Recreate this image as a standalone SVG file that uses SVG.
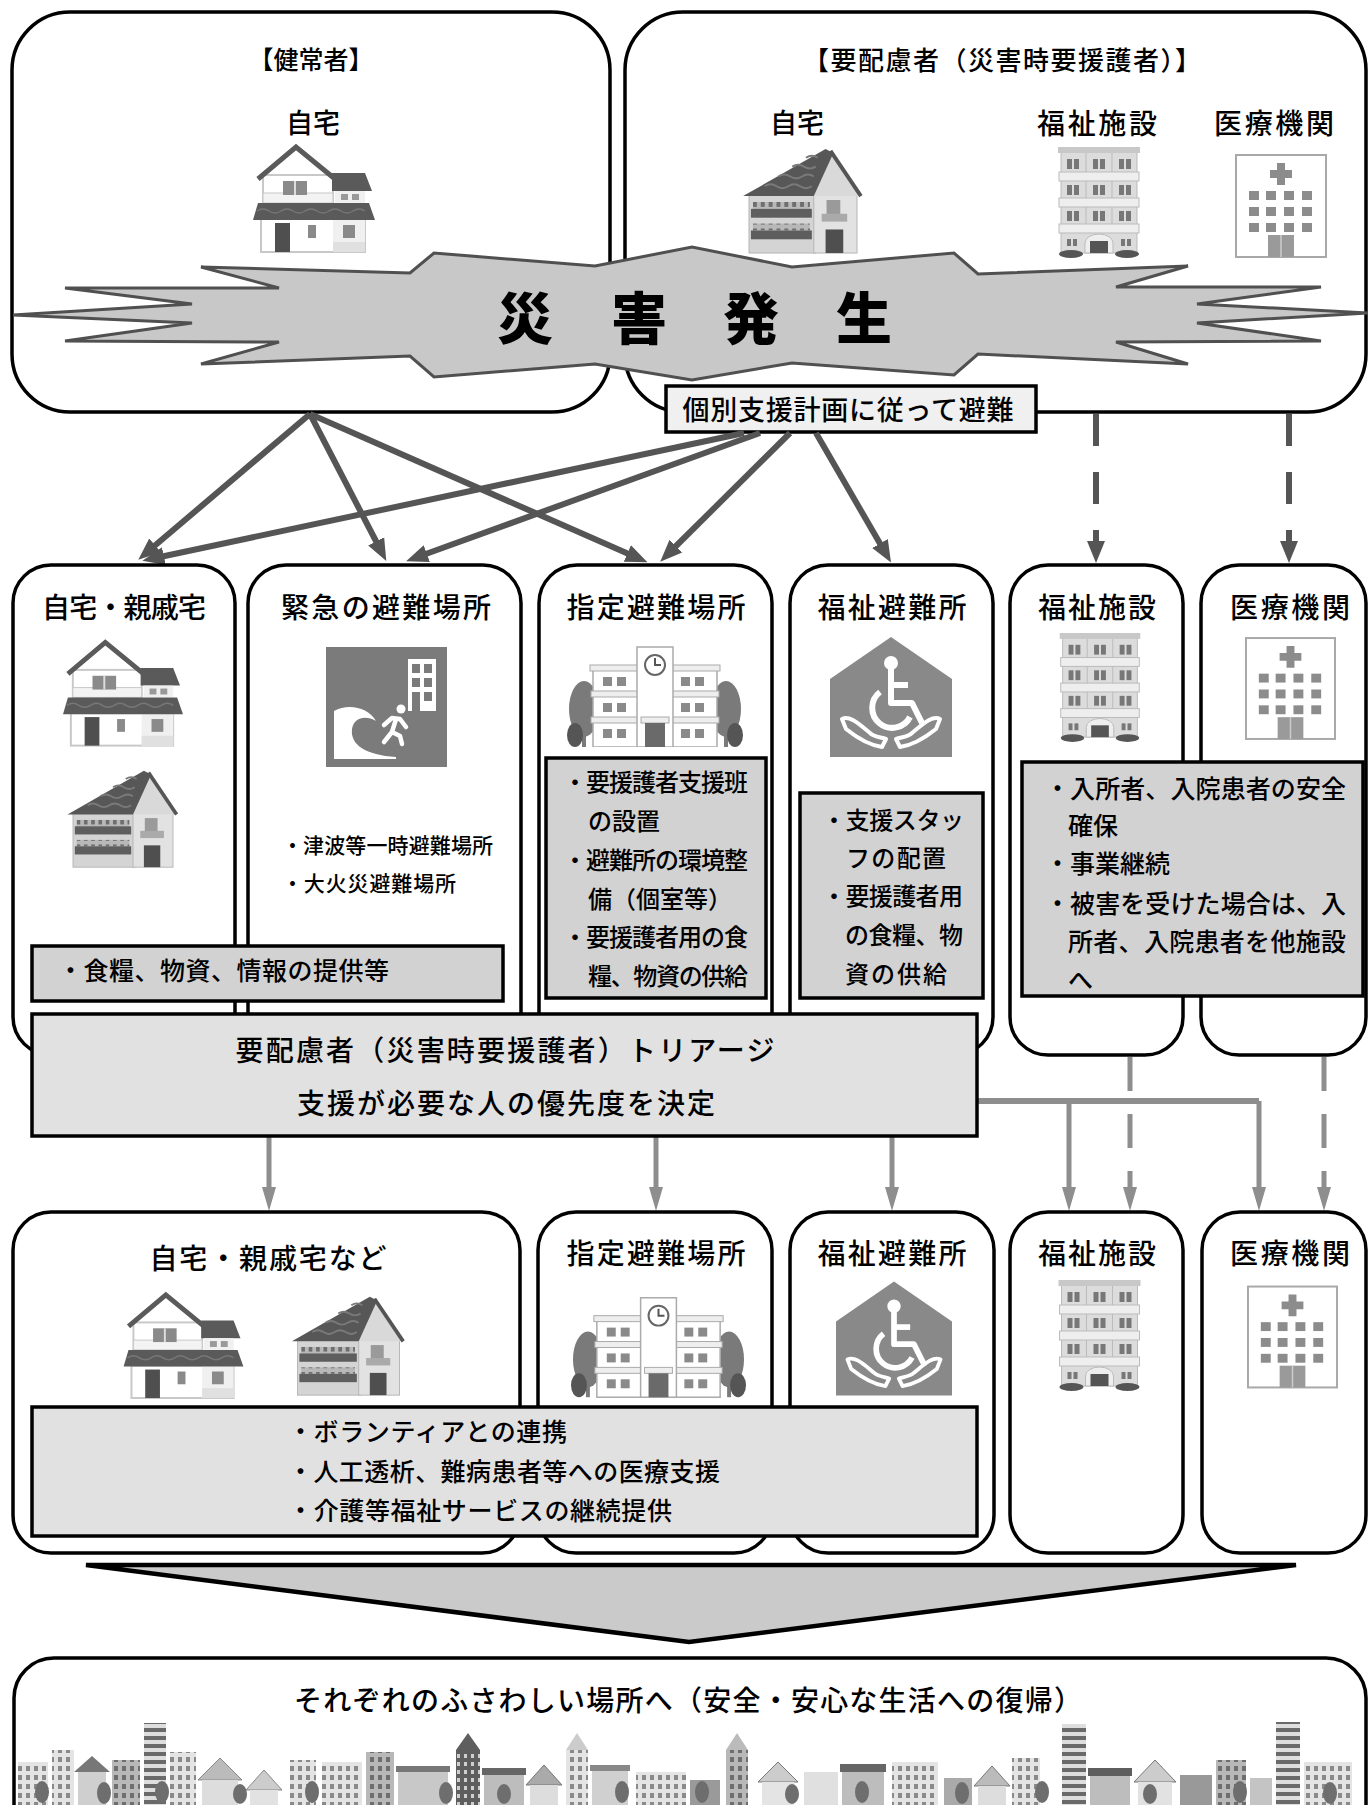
<svg xmlns="http://www.w3.org/2000/svg" xmlns:xlink="http://www.w3.org/1999/xlink" width="1368" height="1805" viewBox="0 0 1368 1805">
<style>
.box{fill:#fff;stroke:#000;stroke-width:3.5}
.gbox{fill:#d2d2d2;stroke:#000;stroke-width:3.5}
.lbox{fill:#e1e1e1;stroke:#000;stroke-width:3.5}
.t{font-family:"Liberation Sans","Noto Sans CJK JP",sans-serif;fill:#000;font-weight:500}
.m{text-anchor:middle}
.arr{stroke:#555;stroke-width:6;fill:none;marker-end:url(#ah)}
.arr2{stroke:#8e8e8e;stroke-width:5;fill:none;marker-end:url(#ah2)}
.dash{stroke-dasharray:32 26}
.dash2{stroke-dasharray:34 23}
</style>
<defs>
<marker id="ah" markerUnits="userSpaceOnUse" markerWidth="24" markerHeight="20" refX="4" refY="10" orient="auto">
<path d="M0,1 L22,10 L0,19 z" fill="#555"/>
</marker>
<marker id="ah2" markerUnits="userSpaceOnUse" markerWidth="26" markerHeight="16" refX="6" refY="8" orient="auto">
<path d="M0,1 L24,8 L0,15 z" fill="#8e8e8e"/>
</marker>
<pattern id="stripe" width="10" height="8" patternUnits="userSpaceOnUse">
<rect width="10" height="8" fill="#dedede"/><rect width="10" height="4" fill="#6a6a6a"/>
</pattern>
<pattern id="win" width="8" height="9" patternUnits="userSpaceOnUse">
<rect width="8" height="9" fill="#e4e4e4"/><rect x="2" y="2" width="4" height="5" fill="#8a8a8a"/>
</pattern>
<pattern id="win2" width="8" height="9" patternUnits="userSpaceOnUse">
<rect width="8" height="9" fill="#b8b8b8"/><rect x="2" y="2" width="4" height="5" fill="#6e6e6e"/>
</pattern>
<pattern id="win3" width="7" height="8" patternUnits="userSpaceOnUse">
<rect width="7" height="8" fill="#5e5e5e"/><rect x="2" y="2" width="3" height="4" fill="#cfcfcf"/>
</pattern>

<!-- two-storey white house -->
<symbol id="houseA" viewBox="0 0 122 110">
<rect x="8" y="76" width="104" height="33" fill="#fff" stroke="#c8c8c8" stroke-width="2"/>
<rect x="80" y="76" width="32" height="33" fill="#f0f0f0"/>
<rect x="80" y="99" width="32" height="10" fill="#e0e0e0"/>
<rect x="22" y="80" width="15" height="29" fill="#4f4f4f"/>
<rect x="55" y="82" width="8" height="13" fill="#8a8a8a"/>
<rect x="90" y="82" width="12" height="13" fill="#8a8a8a"/>
<rect x="10" y="32" width="70" height="28" fill="#fff" stroke="#c8c8c8" stroke-width="2"/>
<rect x="10" y="50" width="70" height="10" fill="#f3f3f3" stroke="#c8c8c8"/>
<rect x="30" y="38" width="24" height="14" fill="#8a8a8a"/>
<line x1="42" y1="38" x2="42" y2="52" stroke="#ddd" stroke-width="2"/>
<polyline points="5,36 43,4 82,36" fill="none" stroke="#5a5a5a" stroke-width="5"/>
<polygon points="79,30 112,30 119,48 79,48" fill="#5a5a5a"/>
<rect x="82" y="48" width="30" height="12" fill="#f0f0f0"/>
<rect x="88" y="51" width="7" height="6" fill="#999"/><rect x="99" y="51" width="7" height="6" fill="#999"/>
<polygon points="5,60 116,60 122,77 0,77" fill="#5a5a5a"/>
<path d="M4,68 q6,-4 12,0 t12,0 t12,0 t12,0 t12,0 t12,0 t12,0 t12,0 t12,0" fill="none" stroke="#777" stroke-width="1.5"/>
</symbol>

<!-- grey house with dark roof -->
<symbol id="houseB" viewBox="0 0 122 110">
<rect x="6" y="48" width="68" height="60" fill="#d4d4d4" stroke="#b4b4b4"/>
<rect x="72" y="48" width="44" height="60" fill="#e2e2e2" stroke="#b4b4b4"/>
<polygon points="70,50 88,5 118,50" fill="#d9d9d9"/>
<polygon points="0,50 84,2 92,6 72,50" fill="#575757"/>
<line x1="89" y1="4" x2="120" y2="50" stroke="#555" stroke-width="4"/>
<path d="M22,40 q6,-4 12,0 t12,0 t12,0 t12,0 M36,30 q6,-4 12,0 t12,0 t12,0 M50,20 q6,-4 12,0 t12,0 M64,11 q6,-4 12,0" fill="none" stroke="#7a7a7a" stroke-width="2"/>
<rect x="10" y="56" width="58" height="7" fill="url(#win2)"/>
<rect x="8" y="63" width="62" height="9" fill="#5e5e5e"/>
<rect x="10" y="78" width="58" height="7" fill="url(#win2)"/>
<rect x="8" y="85" width="62" height="9" fill="#5e5e5e"/>
<rect x="85" y="54" width="14" height="16" fill="#9a9a9a"/>
<rect x="80" y="68" width="26" height="8" fill="#aaa"/>
<rect x="84" y="84" width="18" height="24" fill="#4f4f4f"/>
</symbol>

<!-- care facility building -->
<symbol id="apt" viewBox="0 0 84 112">
<rect x="4" y="4" width="76" height="102" fill="#dcdcdc" stroke="#bbb"/>
<rect x="1" y="0" width="82" height="6" fill="#c8c8c8"/>
<g fill="#777">
<rect x="10" y="12" width="5" height="10"/><rect x="17" y="12" width="5" height="10"/>
<rect x="36" y="12" width="5" height="10"/><rect x="43" y="12" width="5" height="10"/>
<rect x="62" y="12" width="5" height="10"/><rect x="69" y="12" width="5" height="10"/>
<rect x="10" y="38" width="5" height="10"/><rect x="17" y="38" width="5" height="10"/>
<rect x="36" y="38" width="5" height="10"/><rect x="43" y="38" width="5" height="10"/>
<rect x="62" y="38" width="5" height="10"/><rect x="69" y="38" width="5" height="10"/>
<rect x="10" y="64" width="5" height="10"/><rect x="17" y="64" width="5" height="10"/>
<rect x="36" y="64" width="5" height="10"/><rect x="43" y="64" width="5" height="10"/>
<rect x="62" y="64" width="5" height="10"/><rect x="69" y="64" width="5" height="10"/>
<rect x="10" y="92" width="4" height="7"/><rect x="16" y="92" width="4" height="7"/>
<rect x="64" y="92" width="4" height="7"/><rect x="70" y="92" width="4" height="7"/>
</g>
<g fill="#eee" stroke="#bbb">
<rect x="2" y="25" width="80" height="9"/><rect x="2" y="51" width="80" height="9"/><rect x="2" y="77" width="80" height="9"/>
</g>
<line x1="29" y1="6" x2="29" y2="25" stroke="#bbb"/><line x1="55" y1="6" x2="55" y2="25" stroke="#bbb"/>
<line x1="29" y1="34" x2="29" y2="51" stroke="#bbb"/><line x1="55" y1="34" x2="55" y2="51" stroke="#bbb"/>
<line x1="29" y1="60" x2="29" y2="77" stroke="#bbb"/><line x1="55" y1="60" x2="55" y2="77" stroke="#bbb"/>
<path d="M28,106 V96 A14,9 0 0 1 56,96 V106 Z" fill="#eee" stroke="#bbb"/>
<rect x="33" y="94" width="18" height="12" fill="#555"/>
<ellipse cx="14" cy="107" rx="12" ry="4" fill="#555"/><ellipse cx="70" cy="107" rx="12" ry="4" fill="#555"/>
</symbol>

<!-- hospital -->
<symbol id="hosp" viewBox="0 0 94 106">
<rect x="2" y="2" width="90" height="102" fill="#fff" stroke="#a8a8a8" stroke-width="2"/>
<path d="M43,10h8v7h7v8h-7v7h-8v-7h-7v-8h7z" fill="#8c8c8c"/>
<g fill="#8c8c8c">
<rect x="15" y="38" width="10" height="9"/><rect x="32" y="38" width="10" height="9"/><rect x="50" y="38" width="10" height="9"/><rect x="68" y="38" width="10" height="9"/>
<rect x="15" y="54" width="10" height="9"/><rect x="32" y="54" width="10" height="9"/><rect x="50" y="54" width="10" height="9"/><rect x="68" y="54" width="10" height="9"/>
<rect x="15" y="70" width="10" height="9"/><rect x="32" y="70" width="10" height="9"/><rect x="50" y="70" width="10" height="9"/><rect x="68" y="70" width="10" height="9"/>
</g>
<rect x="34" y="82" width="26" height="22" fill="#9a9a9a"/>
<line x1="47" y1="82" x2="47" y2="104" stroke="#ccc" stroke-width="1.5"/>
</symbol>

<!-- school (designated shelter) -->
<symbol id="school" viewBox="0 0 176 102">
<ellipse cx="17" cy="64" rx="15" ry="28" fill="#7a7a7a"/><rect x="15" y="86" width="4" height="16" fill="#7a7a7a"/>
<ellipse cx="8" cy="90" rx="8" ry="12" fill="#555"/>
<ellipse cx="159" cy="64" rx="15" ry="28" fill="#7a7a7a"/><rect x="157" y="86" width="4" height="16" fill="#7a7a7a"/>
<ellipse cx="168" cy="90" rx="8" ry="12" fill="#555"/>
<rect x="26" y="24" width="48" height="78" fill="#fff" stroke="#aaa" stroke-width="1.5"/>
<rect x="102" y="24" width="48" height="78" fill="#fff" stroke="#aaa" stroke-width="1.5"/>
<rect x="23" y="20" width="54" height="6" fill="#eee" stroke="#aaa"/>
<rect x="99" y="20" width="54" height="6" fill="#eee" stroke="#aaa"/>
<g fill="#eee" stroke="#aaa"><rect x="24" y="46" width="52" height="6"/><rect x="100" y="46" width="52" height="6"/><rect x="24" y="72" width="52" height="6"/><rect x="100" y="72" width="52" height="6"/></g>
<g fill="#8a8a8a">
<rect x="36" y="32" width="9" height="9"/><rect x="50" y="32" width="9" height="9"/><rect x="114" y="32" width="9" height="9"/><rect x="128" y="32" width="9" height="9"/>
<rect x="36" y="58" width="9" height="9"/><rect x="50" y="58" width="9" height="9"/><rect x="114" y="58" width="9" height="9"/><rect x="128" y="58" width="9" height="9"/>
<rect x="36" y="84" width="9" height="9"/><rect x="50" y="84" width="9" height="9"/><rect x="114" y="84" width="9" height="9"/><rect x="128" y="84" width="9" height="9"/>
</g>
<rect x="70" y="2" width="36" height="100" fill="#fff" stroke="#aaa" stroke-width="1.5"/>
<circle cx="88" cy="20" r="10" fill="#fff" stroke="#666" stroke-width="2"/>
<path d="M88,13 V20 H94" fill="none" stroke="#555" stroke-width="2"/>
<rect x="74" y="72" width="28" height="6" fill="#eee" stroke="#aaa"/>
<rect x="78" y="78" width="20" height="24" fill="#6a6a6a"/>
</symbol>

<!-- tsunami evacuation sign -->
<symbol id="tsunami" viewBox="0 0 121 120">
<rect width="121" height="120" fill="#7b7b7b"/>
<rect x="82" y="12" width="28" height="52" fill="#fff"/>
<g fill="#7b7b7b">
<rect x="86" y="17" width="8" height="9"/><rect x="98" y="17" width="8" height="9"/>
<rect x="86" y="31" width="8" height="9"/><rect x="98" y="31" width="8" height="9"/>
<rect x="86" y="45" width="8" height="19"/><rect x="98" y="45" width="8" height="9"/>
</g>
<circle cx="75" cy="62" r="4.5" fill="#fff"/>
<path d="M58,78 L66,71 L74,72 L80,80 M70,72 L66,85 L58,95 M66,85 L74,89 L76,97" stroke="#fff" stroke-width="4.5" fill="none" stroke-linecap="round" stroke-linejoin="round"/>
<path d="M8,112 L8,64 C22,56 42,60 50,74 C40,68 28,70 26,82 C24,98 40,108 70,110 L70,112 Z" fill="#fff"/>
</symbol>

<!-- welfare shelter sign -->
<symbol id="wheel" viewBox="0 0 122 120">
<polygon points="0,42 61,0 122,42 122,120 0,120" fill="#898989"/>
<circle cx="61" cy="26" r="7" fill="#fff"/>
<path d="M61,32 L61,66 L82,66 L92,86" stroke="#fff" stroke-width="6" fill="none" stroke-linejoin="round"/>
<path d="M61,48 L78,48" stroke="#fff" stroke-width="6"/>
<path d="M50,55 A20,20 0 1 0 80,80" stroke="#fff" stroke-width="6" fill="none"/>
<path d="M12,82 C20,78 30,88 40,96 C44,100 50,100 56,102 L52,110 C38,108 26,100 16,92 Z" fill="none" stroke="#fff" stroke-width="4" stroke-linejoin="round"/>
<path d="M110,82 C102,78 92,88 82,96 C78,100 72,100 66,102 L70,110 C84,108 96,100 106,92 Z" fill="none" stroke="#fff" stroke-width="4" stroke-linejoin="round"/>
</symbol>
</defs>

<rect width="1368" height="1805" fill="#fff"/>

<!-- top: healthy residents -->
<g id="node-healthy">
<rect class="box" x="12" y="12" width="598" height="400" rx="58"/>
<text class="t m" x="311" y="69" font-size="25">【健常者】</text>
<text class="t m" x="313" y="133" font-size="27">自宅</text>
<use href="#houseA" x="253" y="143" width="122" height="110"/>
</g>

<!-- top: people requiring consideration -->
<g id="node-vulnerable">
<rect class="box" x="625" y="12" width="741" height="400" rx="58"/>
<text class="t m" x="1002" y="70" font-size="26" textLength="398">【要配慮者（災害時要援護者）】</text>
<text class="t m" x="797" y="133" font-size="27">自宅</text>
<text class="t m" x="1097" y="134" font-size="28" textLength="120">福祉施設</text>
<text class="t m" x="1274" y="134" font-size="28" textLength="120">医療機関</text>
<use href="#houseB" x="743" y="147" width="120" height="108"/>
<use href="#apt" x="1057" y="147" width="84" height="112"/>
<use href="#hosp" x="1234" y="153" width="94" height="106"/>
</g>

<!-- disaster burst -->
<g id="node-disaster">
<polygon points="13,315 192,304 65,288 279,288 201,267 410,273 434,253 595,266 692,247 792,267 954,253 978,274 1188,266 1116,287 1321,287 1197,304 1368,313 1197,323 1321,341 1116,342 1188,364 978,354 954,375 792,363 692,380 595,364 434,377 410,356 201,364 279,342 65,341 192,323" fill="#c8c8c8" stroke="#505050" stroke-width="3" stroke-linejoin="miter"/>
<g class="t m" font-size="56" style="font-weight:900">
<text x="525" y="339">災</text><text x="639" y="339">害</text><text x="751" y="339">発</text><text x="864" y="339">生</text>
</g>
</g>

<g id="node-plan">
<rect x="666" y="386" width="370" height="46" fill="#f0f0f0" stroke="#000" stroke-width="3.5"/>
<text class="t m" x="848" y="420" font-size="27" textLength="331">個別支援計画に従って避難</text>
</g>

<!-- evacuation routes -->
<g id="connectors">
<line class="arr" x1="310" y1="414" x2="152" y2="548"/>
<line class="arr" x1="310" y1="414" x2="378" y2="545"/>
<line class="arr" x1="310" y1="414" x2="631" y2="555"/>
<line class="arr" x1="744" y1="433" x2="160" y2="557"/>
<line class="arr" x1="760" y1="433" x2="423" y2="555"/>
<line class="arr" x1="790" y1="433" x2="673" y2="549"/>
<line class="arr" x1="816" y1="433" x2="882" y2="547"/>
<line class="arr dash" x1="1096" y1="414" x2="1096" y2="545"/>
<line class="arr dash" x1="1289" y1="414" x2="1289" y2="545"/>

<line class="arr2" x1="269" y1="1137" x2="269" y2="1193"/>
<line class="arr2" x1="656" y1="1137" x2="656" y2="1193"/>
<line class="arr2" x1="892" y1="1137" x2="892" y2="1193"/>
<path d="M977,1101 H1259" stroke="#8e8e8e" stroke-width="6" fill="none"/>
<line class="arr2" x1="1069" y1="1101" x2="1069" y2="1193"/>
<path class="arr2" d="M1259,1101 V1193"/>
<line class="arr2 dash2" x1="1130" y1="1057" x2="1130" y2="1193"/>
<line class="arr2 dash2" x1="1324" y1="1057" x2="1324" y2="1193"/>
</g>

<!-- middle row: evacuation destinations -->
<g id="node-home">
<rect class="box" x="13" y="565" width="222" height="490" rx="38"/>
<text class="t m" x="124" y="618" font-size="28" textLength="164">自宅・親戚宅</text>
<use href="#houseA" x="63" y="637" width="120" height="111"/>
<use href="#houseB" x="63" y="769" width="120" height="100"/>
</g>
<g id="node-emergency">
<rect class="box" x="248" y="565" width="273" height="490" rx="38"/>
<text class="t m" x="386" y="618" font-size="28" textLength="210">緊急の避難場所</text>
<use href="#tsunami" x="326" y="647" width="121" height="120"/>
<text class="t" x="282" y="853" font-size="21" textLength="211">・津波等一時避難場所</text>
<text class="t" x="282" y="891" font-size="21" textLength="174">・大火災避難場所</text>
</g>
<g id="node-designated">
<rect class="box" x="539" y="565" width="233" height="490" rx="38"/>
<text class="t m" x="656" y="618" font-size="28" textLength="179">指定避難場所</text>
<use href="#school" x="567" y="645" width="176" height="102"/>
</g>
<g id="node-welfare-shelter">
<rect class="box" x="790" y="565" width="203" height="490" rx="38"/>
<text class="t m" x="892" y="618" font-size="28" textLength="149">福祉避難所</text>
<use href="#wheel" x="830" y="637" width="122" height="120"/>
</g>
<g id="node-facility">
<rect class="box" x="1010" y="565" width="173" height="490" rx="38"/>
<text class="t m" x="1097" y="618" font-size="28" textLength="118">福祉施設</text>
<use href="#apt" x="1058" y="633" width="84" height="110"/>
</g>
<g id="node-hospital">
<rect class="box" x="1201" y="565" width="165" height="490" rx="38"/>
<text class="t m" x="1290" y="618" font-size="28" textLength="120">医療機関</text>
<use href="#hosp" x="1244" y="635" width="93" height="107"/>
</g>

<!-- support notes -->
<g id="note-supplies">
<rect class="gbox" x="32" y="946" width="471" height="55"/>
<text class="t" x="58" y="980" font-size="25" textLength="331">・食糧、物資、情報の提供等</text>
</g>
<g id="note-designated">
<rect class="gbox" x="546" y="758" width="220" height="240"/>
<g class="t" font-size="24">
<text x="563" y="791" textLength="185">・要援護者支援班</text>
<text x="588" y="830">の設置</text>
<text x="563" y="869" textLength="185">・避難所の環境整</text>
<text x="588" y="908">備（個室等）</text>
<text x="563" y="946" textLength="185">・要援護者用の食</text>
<text x="588" y="985" textLength="160">糧、物資の供給</text>
</g>
</g>
<g id="note-welfare-shelter">
<rect class="gbox" x="800" y="793" width="183" height="205"/>
<g class="t" font-size="24">
<text x="822" y="829" textLength="142">・支援スタッ</text>
<text x="846" y="867" textLength="100">フの配置</text>
<text x="822" y="905" textLength="141">・要援護者用</text>
<text x="845" y="944" textLength="118">の食糧、物</text>
<text x="845" y="983" textLength="102">資の供給</text>
</g>
</g>
<g id="note-facility">
<rect class="gbox" x="1022" y="762" width="341" height="234"/>
<g class="t" font-size="25">
<text x="1045" y="798" textLength="301">・入所者、入院患者の安全</text>
<text x="1068" y="835">確保</text>
<text x="1045" y="873">・事業継続</text>
<text x="1045" y="913" textLength="301">・被害を受けた場合は、入</text>
<text x="1068" y="951" textLength="278">所者、入院患者を他施設</text>
<text x="1068" y="989">へ</text>
</g>
</g>

<!-- triage -->
<g id="node-triage">
<rect class="lbox" x="32" y="1014" width="945" height="122"/>
<text class="t m" x="505" y="1061" font-size="28" textLength="539">要配慮者（災害時要援護者）トリアージ</text>
<text class="t m" x="506" y="1114" font-size="28" textLength="418">支援が必要な人の優先度を決定</text>
</g>

<!-- lower row: after triage -->
<g id="node-home2">
<rect class="box" x="13" y="1212" width="507" height="341" rx="38"/>
<text class="t m" x="268" y="1269" font-size="28" textLength="237">自宅・親戚宅など</text>
<use href="#houseA" x="123" y="1291" width="121" height="108"/>
<use href="#houseB" x="288" y="1295" width="121" height="102"/>
</g>
<g id="node-designated2">
<rect class="box" x="538" y="1212" width="234" height="341" rx="38"/>
<text class="t m" x="656" y="1264" font-size="28" textLength="179">指定避難場所</text>
<use href="#school" x="571" y="1295" width="175" height="103"/>
</g>
<g id="node-welfare-shelter2">
<rect class="box" x="790" y="1212" width="204" height="341" rx="38"/>
<text class="t m" x="892" y="1264" font-size="28" textLength="149">福祉避難所</text>
<use href="#wheel" x="836" y="1280" width="116" height="117"/>
</g>
<g id="node-facility2">
<rect class="box" x="1010" y="1212" width="173" height="341" rx="38"/>
<text class="t m" x="1097" y="1264" font-size="28" textLength="118">福祉施設</text>
<use href="#apt" x="1056" y="1280" width="87" height="112"/>
</g>
<g id="node-hospital2">
<rect class="box" x="1202" y="1212" width="164" height="341" rx="38"/>
<text class="t m" x="1290" y="1264" font-size="28" textLength="120">医療機関</text>
<use href="#hosp" x="1246" y="1282" width="93" height="110"/>
</g>
<g id="note-services">
<rect class="lbox" x="32" y="1407" width="945" height="129"/>
<g class="t" font-size="25">
<text x="288" y="1441" textLength="279">・ボランティアとの連携</text>
<text x="288" y="1481" textLength="432">・人工透析、難病患者等への医療支援</text>
<text x="288" y="1520" textLength="384">・介護等福祉サービスの継続提供</text>
</g>
</g>

<!-- big down arrow -->
<g id="node-funnel">
<polygon points="86,1565 1296,1565 689,1642" fill="#cacaca" stroke="#000" stroke-width="4.5" stroke-linejoin="miter"/>
</g>

<!-- return to daily life -->
<g id="node-return">
<rect class="box" x="14" y="1658" width="1352" height="220" rx="40"/>
<text class="t m" x="688" y="1711" font-size="28" textLength="788">それぞれのふさわしい場所へ（安全・安心な生活への復帰）</text>
<g id="townscape">
<rect x="18" y="1762" width="30" height="43" fill="url(#win)"/>
<rect x="52" y="1750" width="22" height="55" fill="url(#win)"/>
<polygon points="74,1772 92,1756 110,1772" fill="#777"/><rect x="78" y="1772" width="28" height="33" fill="#cfcfcf"/>
<rect x="112" y="1760" width="28" height="45" fill="url(#win2)"/>
<rect x="144" y="1723" width="22" height="82" fill="url(#stripe)"/>
<rect x="170" y="1752" width="26" height="53" fill="url(#win)"/>
<polygon points="198,1780 220,1758 242,1780" fill="#bbb" stroke="#888"/><rect x="202" y="1780" width="36" height="25" fill="#ddd"/>
<polygon points="246,1790 264,1770 282,1790" fill="#ccc" stroke="#888"/><rect x="250" y="1790" width="28" height="15" fill="#e2e2e2"/>
<rect x="290" y="1760" width="26" height="45" fill="url(#win)"/>
<rect x="322" y="1762" width="40" height="43" fill="url(#win)"/>
<rect x="366" y="1752" width="28" height="53" fill="url(#win2)"/>
<rect x="398" y="1768" width="50" height="37" fill="#c8c8c8"/><rect x="396" y="1766" width="54" height="6" fill="#777"/>
<polygon points="456,1750 468,1733 480,1750" fill="#5e5e5e"/><rect x="456" y="1750" width="24" height="55" fill="url(#win3)"/>
<rect x="484" y="1772" width="40" height="33" fill="#bdbdbd"/><rect x="482" y="1768" width="44" height="7" fill="#666"/>
<polygon points="526,1785 544,1765 562,1785" fill="#aaa" stroke="#777"/><rect x="530" y="1785" width="28" height="20" fill="#ddd"/>
<polygon points="566,1750 577,1733 588,1750" fill="#ccc"/><rect x="566" y="1750" width="22" height="55" fill="url(#win)"/>
<rect x="592" y="1768" width="36" height="37" fill="#d0d0d0"/><rect x="590" y="1765" width="40" height="6" fill="#888"/>
<rect x="636" y="1772" width="50" height="33" fill="url(#win)"/>
<rect x="690" y="1780" width="30" height="25" fill="#9a9a9a"/>
<polygon points="726,1750 737,1733 748,1750" fill="#bbb"/><rect x="726" y="1750" width="22" height="55" fill="url(#win2)"/>
<polygon points="758,1782 778,1762 798,1782" fill="#ccc" stroke="#777"/><rect x="762" y="1782" width="32" height="23" fill="#e4e4e4"/>
<rect x="804" y="1772" width="34" height="33" fill="#e0e0e0"/>
<rect x="842" y="1770" width="42" height="35" fill="#bdbdbd"/><rect x="840" y="1764" width="46" height="8" fill="#666"/>
<rect x="892" y="1762" width="46" height="43" fill="url(#win)"/>
<rect x="944" y="1778" width="28" height="27" fill="#aaa"/>
<polygon points="974,1786 992,1766 1010,1786" fill="#bbb" stroke="#777"/><rect x="978" y="1786" width="28" height="19" fill="#ddd"/>
<rect x="1012" y="1758" width="28" height="47" fill="url(#win)"/>
<rect x="1062" y="1724" width="24" height="81" fill="url(#stripe)"/>
<rect x="1090" y="1774" width="40" height="31" fill="#bdbdbd"/><rect x="1088" y="1768" width="44" height="8" fill="#5e5e5e"/>
<polygon points="1134,1782 1155,1760 1176,1782" fill="#ccc" stroke="#777"/><rect x="1138" y="1782" width="34" height="23" fill="#e2e2e2"/>
<rect x="1180" y="1775" width="32" height="30" fill="#999"/>
<rect x="1216" y="1760" width="30" height="45" fill="url(#win2)"/>
<rect x="1250" y="1778" width="22" height="27" fill="#c4c4c4"/>
<rect x="1276" y="1722" width="24" height="83" fill="url(#stripe)"/>
<rect x="1304" y="1762" width="48" height="43" fill="url(#win)"/>
<g fill="#6e6e6e">
<ellipse cx="42" cy="1792" rx="7" ry="11"/><ellipse cx="104" cy="1793" rx="7" ry="11"/><ellipse cx="162" cy="1792" rx="7" ry="11"/>
<ellipse cx="240" cy="1794" rx="7" ry="10"/><ellipse cx="312" cy="1792" rx="7" ry="11"/><ellipse cx="446" cy="1793" rx="7" ry="11"/>
<ellipse cx="504" cy="1794" rx="7" ry="10"/><ellipse cx="622" cy="1792" rx="7" ry="11"/><ellipse cx="702" cy="1792" rx="7" ry="11"/>
<ellipse cx="792" cy="1794" rx="7" ry="10"/><ellipse cx="862" cy="1792" rx="7" ry="11"/><ellipse cx="962" cy="1793" rx="7" ry="11"/>
<ellipse cx="1042" cy="1792" rx="7" ry="11"/><ellipse cx="1150" cy="1794" rx="7" ry="10"/><ellipse cx="1240" cy="1792" rx="7" ry="11"/>
<ellipse cx="1330" cy="1793" rx="7" ry="11"/>
</g>
</g>
</g>
</svg>
